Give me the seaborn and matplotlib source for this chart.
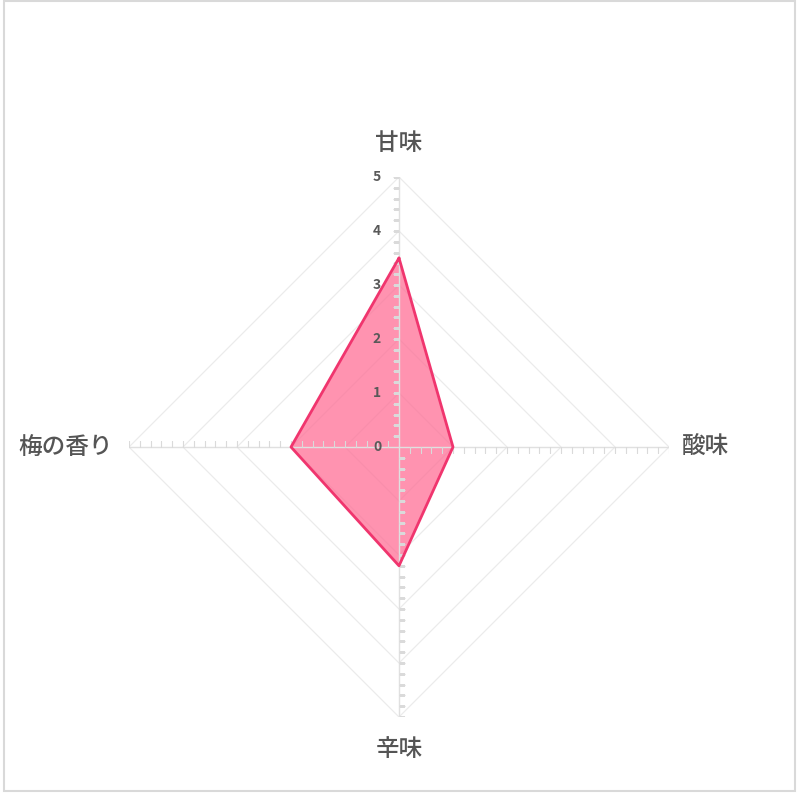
import numpy as np
import matplotlib
matplotlib.use("Agg")
import matplotlib.pyplot as plt
import matplotlib.transforms as mtransforms
from matplotlib.patches import Rectangle
import seaborn as sns

categories = ["甘味", "酸味", "辛味", "梅の香り"]
values = [3.5, 1.0, 2.2, 2.0]
tick_values = [0, 1, 2, 3, 4, 5]
tick_labels = ["0", "1", "2", "3", "4", "5"]
r_max = 5

sns.set_theme(style="white")
plt.rcParams['font.family'] = ['Noto Sans CJK JP', 'DejaVu Sans']

fig = plt.figure(figsize=(8, 8), dpi=100)
fig.patch.set_facecolor("white")
cx, cy, rad = 399 / 800, 1 - 447 / 800, 270 / 800
ax = fig.add_axes([cx - rad, cy - rad, 2 * rad, 2 * rad], projection="polar")
ax.set_theta_offset(np.pi / 2)
ax.set_theta_direction(-1)
ax.set_ylim(0, r_max)
ax.set_xticks([])
ax.set_yticks([])
ax.grid(False)
ax.spines["polar"].set_visible(False)
ax.set_facecolor("none")

n = len(categories)
angles = np.arange(n) * 2 * np.pi / n
closed_angles = np.append(angles, angles[0])

grid_color = "#ebebeb"
# polygon gridlines
for r in tick_values[1:]:
    ax.plot(closed_angles, [r] * (n + 1), color=grid_color, lw=0.9, zorder=1)

# data
vals_closed = values + [values[0]]
ax.fill(closed_angles, vals_closed, color="#FF6F96", alpha=0.75, zorder=2, lw=0)
sns.lineplot(x=closed_angles, y=vals_closed, sort=False, ax=ax,
             color="#F0356E", lw=2.0, zorder=4, estimator=None)

# spokes with minor ticks
tick_markers = [0, 3, 1, 2]  # TICKRIGHT, TICKDOWN, TICKLEFT, TICKUP
minor = np.arange(0.2, r_max + 0.001, 0.2)
for a, m in zip(angles, tick_markers):
    ax.plot([a, a], [0, r_max], color="#e0e0e0", lw=1.0, zorder=3)
    ax.plot([a] * len(minor), minor, ls="none", marker=m, markersize=4,
            markeredgewidth=0.8, color="#dadada", zorder=3)

# radial tick labels
off = mtransforms.offset_copy(ax.transData, fig=fig, x=-22, y=0, units="dots")
for v, lab in zip(tick_values, tick_labels):
    ax.text(0, v, lab, transform=off, ha="center", va="center",
            fontsize=10, fontweight="bold", color="#595959", zorder=5)

# category labels
label_offsets = [(0, 34, "center", "center"),
                 (13, 0, "left", "center"),
                 (0, -32, "center", "center"),
                 (-16, 0, "right", "center")]
for a, lab, (dx, dy, ha, va) in zip(angles, categories, label_offsets):
    tr = mtransforms.offset_copy(ax.transData, fig=fig, x=dx, y=dy, units="dots")
    ax.text(a, r_max, lab, transform=tr, ha=ha, va=va, fontsize=17,
            fontweight="medium", color="#555555")

ax.set_xlabel("")
ax.set_ylabel("")
if ax.get_legend() is not None:
    ax.get_legend().remove()

fig.patches.append(Rectangle((4 / 800, 1 - 791 / 800), 791 / 800, 790 / 800,
                             transform=fig.transFigure, fill=False,
                             edgecolor="#d9d9d9", lw=1.5))

fig.savefig("out.png", dpi=100, facecolor="white")
